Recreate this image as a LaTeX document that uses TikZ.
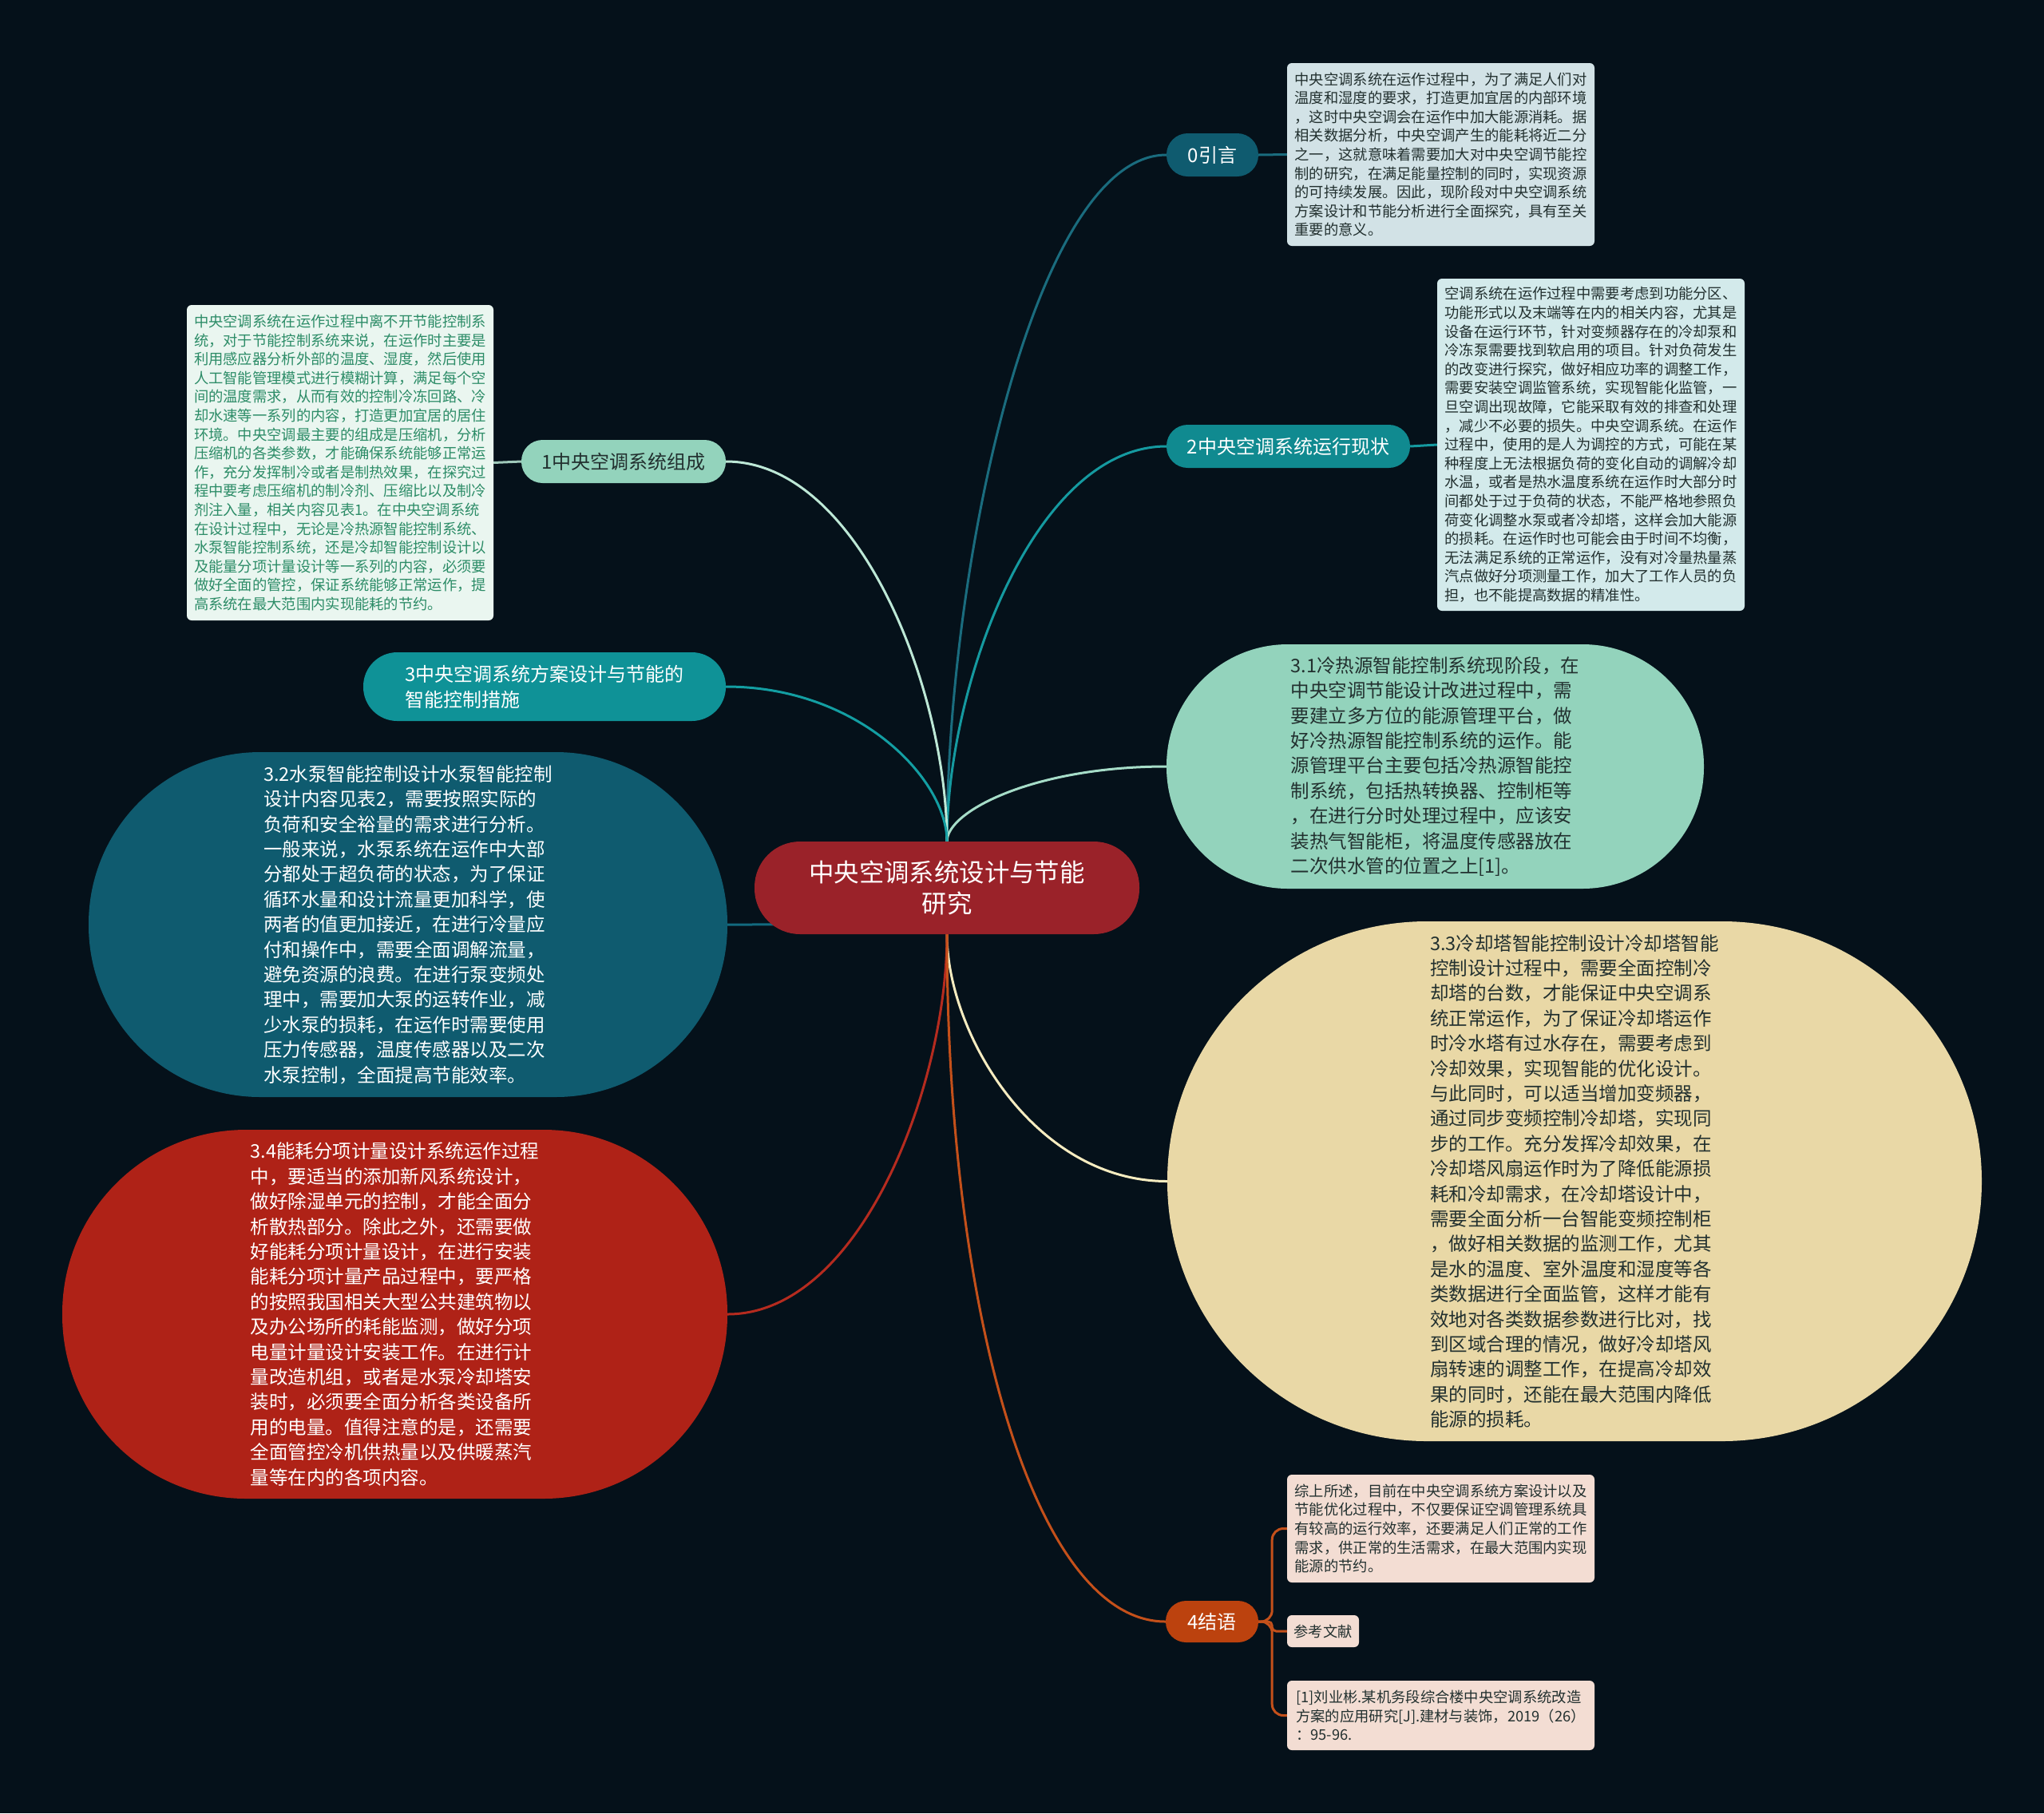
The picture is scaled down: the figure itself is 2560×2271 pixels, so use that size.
\documentclass[tikz,border=0pt]{standalone}
\usepackage{fontspec}
\setmainfont{Noto Sans CJK SC}
\definecolor{bgcol}{HTML}{05111A}
\definecolor{ctrfill}{HTML}{9A2229}
\definecolor{tealdark}{HTML}{0F5B6F}
\definecolor{tealmid}{HTML}{108A90}
\definecolor{tealbright}{HTML}{0F9297}
\definecolor{mint}{HTML}{93D3BC}
\definecolor{mintpale}{HTML}{EAF6F0}
\definecolor{mintink}{HTML}{2C8C67}
\definecolor{greyblue}{HTML}{D2E2E6}
\definecolor{cyanpale}{HTML}{D3EAEB}
\definecolor{sand}{HTML}{E9D8A6}
\definecolor{brick}{HTML}{AF2217}
\definecolor{rust}{HTML}{BC420E}
\definecolor{blush}{HTML}{F3DDD3}
\definecolor{ink}{HTML}{22302F}
\definecolor{lk0}{HTML}{1A6C7E}
\definecolor{lk1}{HTML}{BDE8D6}
\definecolor{lk1b}{HTML}{9FC9BA}
\definecolor{lk2}{HTML}{159AA0}
\definecolor{lk3}{HTML}{139EA2}
\definecolor{lk31}{HTML}{A6DDC8}
\definecolor{lk32}{HTML}{126A7E}
\definecolor{lk33}{HTML}{F6ECC0}
\definecolor{lk34}{HTML}{B52B1F}
\definecolor{lk4}{HTML}{C4501A}
\pgfdeclarelayer{bglayer}
\pgfdeclarelayer{linklayer}
\pgfsetlayers{bglayer,linklayer,main}
\tikzset{
  link/.style={line width=3pt},
  smalltext/.style={font=\fontsize{18.3}{23.6}\selectfont},
  bigtext/.style={font=\fontsize{23.5}{31.4}\selectfont},
  labeltext/.style={font=\fontsize{24}{32}\selectfont},
  leafbox/.style={smalltext, inner sep=0pt, align=left, rounded corners=6pt, text=ink},
  blob/.style={bigtext, inner sep=0pt, align=left},
  pill/.style={labeltext, inner sep=0pt, align=left}
}
\begin{document}
\begin{tikzpicture}[x=1pt,y=-1pt,line cap=round,line join=round]
\begin{pgfonlayer}{bglayer}
\fill[bgcol] (0,0) rectangle (2560,2271);
\end{pgfonlayer}
% central topic
\node[inner sep=0pt, align=center, fill=ctrfill, text=white, rounded corners=57pt,
  minimum width=482pt, minimum height=116pt, font=\fontsize{31.4}{39}\selectfont]
  (ctr) at (1186,1112) {中央空调系统设计与节能\\研究};
% main branches
\node[pill, fill=tealdark, text=white, rounded corners=26.5pt, minimum width=115pt, minimum height=54pt]
  (n0) at (1518.5,194) {0引言};
\node[pill, fill=mint, text=ink, rounded corners=26.5pt, minimum width=256pt, minimum height=54pt]
  (n1) at (781,578) {1中央空调系统组成};
\node[pill, fill=tealmid, text=white, rounded corners=26.5pt, minimum width=305pt, minimum height=54pt]
  (n2) at (1613.5,559) {2中央空调系统运行现状};
\node[pill, fill=tealbright, text=white, rounded corners=42.5pt, minimum width=454pt, minimum height=86pt]
  (n3) at (682,860) {3中央空调系统方案设计与节能的\\智能控制措施};
\node[pill, fill=rust, text=white, rounded corners=25.5pt, minimum width=116pt, minimum height=52pt]
  (n4) at (1518,2031) {4结语};
% text boxes
\node[leafbox, fill=greyblue, minimum width=385pt, minimum height=229pt] (box0) at (1804.5,193.5)
  {中央空调系统在运作过程中，为了满足人们对\\温度和湿度的要求，打造更加宜居的内部环境\\，这时中央空调会在运作中加大能源消耗。据\\相关数据分析，中央空调产生的能耗将近二分\\之一，这就意味着需要加大对中央空调节能控\\制的研究，在满足能量控制的同时，实现资源\\的可持续发展。因此，现阶段对中央空调系统\\方案设计和节能分析进行全面探究，具有至关\\重要的意义。};
\node[leafbox, fill=mintpale, text=mintink, minimum width=384pt, minimum height=395pt] (box1) at (426,579.5)
  {中央空调系统在运作过程中离不开节能控制系\\统，对于节能控制系统来说，在运作时主要是\\利用感应器分析外部的温度、湿度，然后使用\\人工智能管理模式进行模糊计算，满足每个空\\间的温度需求，从而有效的控制冷冻回路、冷\\却水速等一系列的内容，打造更加宜居的居住\\环境。中央空调最主要的组成是压缩机，分析\\压缩机的各类参数，才能确保系统能够正常运\\作，充分发挥制冷或者是制热效果，在探究过\\程中要考虑压缩机的制冷剂、压缩比以及制冷\\剂注入量，相关内容见表1。在中央空调系统\\在设计过程中，无论是冷热源智能控制系统、\\水泵智能控制系统，还是冷却智能控制设计以\\及能量分项计量设计等一系列的内容，必须要\\做好全面的管控，保证系统能够正常运作，提\\高系统在最大范围内实现能耗的节约。};
\node[leafbox, fill=cyanpale, minimum width=385pt, minimum height=416pt] (box2) at (1992.5,557)
  {空调系统在运作过程中需要考虑到功能分区、\\功能形式以及末端等在内的相关内容，尤其是\\设备在运行环节，针对变频器存在的冷却泵和\\冷冻泵需要找到软启用的项目。针对负荷发生\\的改变进行探究，做好相应功率的调整工作，\\需要安装空调监管系统，实现智能化监管，一\\旦空调出现故障，它能采取有效的排查和处理\\，减少不必要的损失。中央空调系统。在运作\\过程中，使用的是人为调控的方式，可能在某\\种程度上无法根据负荷的变化自动的调解冷却\\水温，或者是热水温度系统在运作时大部分时\\间都处于过于负荷的状态，不能严格地参照负\\荷变化调整水泵或者冷却塔，这样会加大能源\\的损耗。在运作时也可能会由于时间不均衡，\\无法满足系统的正常运作，没有对冷量热量蒸\\汽点做好分项测量工作，加大了工作人员的负\\担，也不能提高数据的精准性。};
% section 3 blobs
\node[blob, fill=mint, text=ink, rounded corners=152pt, minimum width=673pt, minimum height=306pt] (b31) at (1797.5,960)
  {3.1冷热源智能控制系统现阶段，在\\中央空调节能设计改进过程中，需\\要建立多方位的能源管理平台，做\\好冷热源智能控制系统的运作。能\\源管理平台主要包括冷热源智能控\\制系统，包括热转换器、控制柜等\\，在进行分时处理过程中，应该安\\装热气智能柜，将温度传感器放在\\二次供水管的位置之上[1]。};
\node[blob, fill=tealdark, text=white, rounded corners=215pt, minimum width=800pt, minimum height=432pt] (b32) at (511,1158)
  {3.2水泵智能控制设计水泵智能控制\\设计内容见表2，需要按照实际的\\负荷和安全裕量的需求进行分析。\\一般来说，水泵系统在运作中大部\\分都处于超负荷的状态，为了保证\\循环水量和设计流量更加科学，使\\两者的值更加接近，在进行冷量应\\付和操作中，需要全面调解流量，\\避免资源的浪费。在进行泵变频处\\理中，需要加大泵的运转作业，减\\少水泵的损耗，在运作时需要使用\\压力传感器，温度传感器以及二次\\水泵控制，全面提高节能效率。};
\node[blob, fill=sand, text=ink, rounded corners=325pt, minimum width=1020pt, minimum height=651pt] (b33) at (1972,1479.5)
  {3.3冷却塔智能控制设计冷却塔智能\\控制设计过程中，需要全面控制冷\\却塔的台数，才能保证中央空调系\\统正常运作，为了保证冷却塔运作\\时冷水塔有过水存在，需要考虑到\\冷却效果，实现智能的优化设计。\\与此同时，可以适当增加变频器，\\通过同步变频控制冷却塔，实现同\\步的工作。充分发挥冷却效果，在\\冷却塔风扇运作时为了降低能源损\\耗和冷却需求，在冷却塔设计中，\\需要全面分析一台智能变频控制柜\\，做好相关数据的监测工作，尤其\\是水的温度、室外温度和湿度等各\\类数据进行全面监管，这样才能有\\效地对各类数据参数进行比对，找\\到区域合理的情况，做好冷却塔风\\扇转速的调整工作，在提高冷却效\\果的同时，还能在最大范围内降低\\能源的损耗。};
\node[blob, fill=brick, text=white, rounded corners=230pt, minimum width=833pt, minimum height=462pt] (b34) at (494.5,1646)
  {3.4能耗分项计量设计系统运作过程\\中，要适当的添加新风系统设计，\\做好除湿单元的控制，才能全面分\\析散热部分。除此之外，还需要做\\好能耗分项计量设计，在进行安装\\能耗分项计量产品过程中，要严格\\的按照我国相关大型公共建筑物以\\及办公场所的耗能监测，做好分项\\电量计量设计安装工作。在进行计\\量改造机组，或者是水泵冷却塔安\\装时，必须要全面分析各类设备所\\用的电量。值得注意的是，还需要\\全面管控冷机供热量以及供暖蒸汽\\量等在内的各项内容。};
% conclusion boxes
\node[leafbox, fill=blush, minimum width=385pt, minimum height=135pt] (box4a) at (1804.5,1914.5)
  {综上所述，目前在中央空调系统方案设计以及\\节能优化过程中，不仅要保证空调管理系统具\\有较高的运行效率，还要满足人们正常的工作\\需求，供正常的生活需求，在最大范围内实现\\能源的节约。};
\node[leafbox, fill=blush, minimum width=90pt, minimum height=40pt] (box4b) at (1657,2043) {参考文献};
\node[leafbox, fill=blush, minimum width=385pt, minimum height=87pt] (box4c) at (1804.5,2148.5)
  {[1]刘业彬.某机务段综合楼中央空调系统改造\\方案的应用研究[J].建材与装饰，2019（26）\\：95-96.};
% connectors
\begin{pgfonlayer}{linklayer}
\foreach \s/\t/\c/\u/\v in {north/n0.west/lk0/-344/-165, north/n2.west/lk2/-198/-165,
    north/b31.west/lk31/-38/-165, north/n1.east/lk1/-190/166, north/n3.east/lk3/-78/166,
    south/b33.west/lk33/124/-166, south/b34.east/lk34/190/166, south/n4.west/lk4/470/-165}
  \draw[link,\c] (ctr.\s) .. controls +(0,\u) and +(\v,0) .. (\t);
\draw[link,lk32] (ctr.center) .. controls +(-60,46) and +(150,0) .. (b32.east);
\draw[link,lk0] (n0.east) -- (box0.west);
\draw[link,lk1b] (n1.west) -- (box1.east);
\draw[link,lk2] (n2.east) -- (box2.west);
\foreach \b/\r in {box4a/14,box4b/5,box4c/14}
  \draw[link,lk4,rounded corners=\r] (n4.east) -- ++(17,0) |- (\b.west);
\end{pgfonlayer}
\end{tikzpicture}
\end{document}
